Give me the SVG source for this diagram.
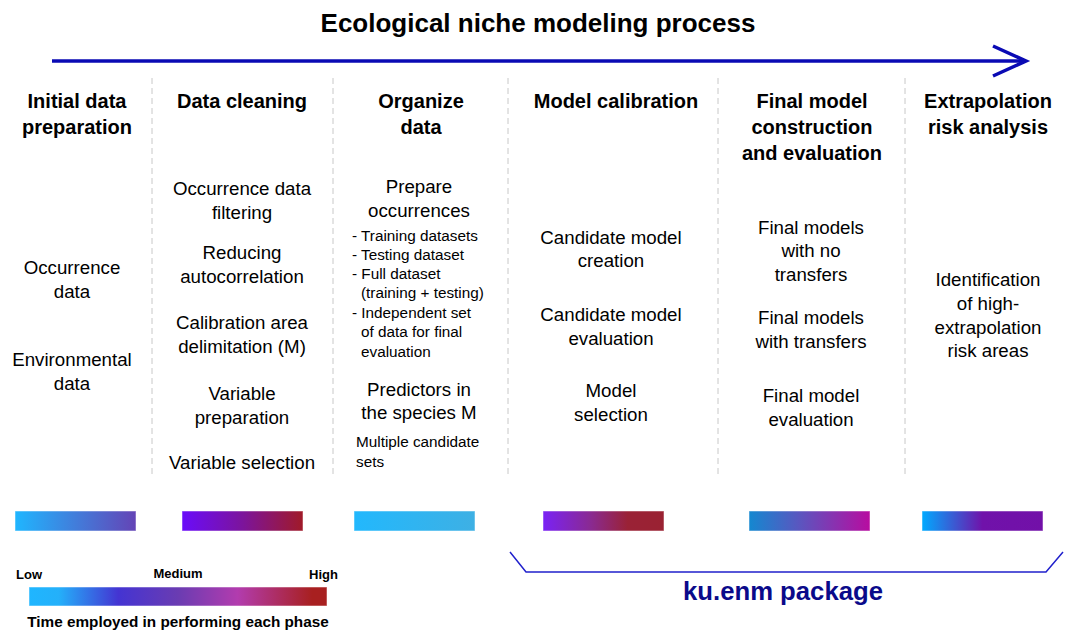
<svg xmlns="http://www.w3.org/2000/svg" width="1070" height="632" viewBox="0 0 1070 632">
<style>
text{font-family:"Liberation Sans",Arial,sans-serif;fill:#000}
.title{font-size:26px;font-weight:bold}
.h{font-size:20px;font-weight:bold;text-anchor:middle}
.b{font-size:18.7px;text-anchor:middle}
.s{font-size:15.3px}
.sep{stroke:#c8c8c8;stroke-width:1;stroke-dasharray:6,4}
.bar{stroke:#ffffff;stroke-opacity:0.5;stroke-width:1}
.lg{font-size:13px;font-weight:bold}
</style>
<defs>
<linearGradient id="g1"><stop offset="0" stop-color="#1fb6ff"/><stop offset="1" stop-color="#6444b6"/></linearGradient>
<linearGradient id="g2"><stop offset="0" stop-color="#6a0cfa"/><stop offset="0.5" stop-color="#7c149c"/><stop offset="1" stop-color="#a01a28"/></linearGradient>
<linearGradient id="g3"><stop offset="0" stop-color="#22b8fd"/><stop offset="1" stop-color="#3eb0e4"/></linearGradient>
<linearGradient id="g4"><stop offset="0" stop-color="#7a22f5"/><stop offset="0.4" stop-color="#8a2a90"/><stop offset="0.7" stop-color="#9a2236"/><stop offset="1" stop-color="#9a2232"/></linearGradient>
<linearGradient id="g5"><stop offset="0" stop-color="#1488d0"/><stop offset="0.4" stop-color="#5858c0"/><stop offset="1" stop-color="#b80ca0"/></linearGradient>
<linearGradient id="g6"><stop offset="0" stop-color="#00aaff"/><stop offset="0.5" stop-color="#7012aa"/><stop offset="1" stop-color="#7210a8"/></linearGradient>
<linearGradient id="gl"><stop offset="0" stop-color="#1fb6ff"/><stop offset="0.1" stop-color="#24b0fa"/><stop offset="0.3" stop-color="#4434d2"/><stop offset="0.5" stop-color="#6a3cb2"/><stop offset="0.7" stop-color="#b23cae"/><stop offset="0.95" stop-color="#a82020"/><stop offset="1" stop-color="#a82020"/></linearGradient>
</defs>

<text class="title" x="538" y="32" text-anchor="middle">Ecological niche modeling process</text>

<g id="connectors">
<line x1="52" y1="61" x2="1025" y2="61" stroke="#0a0ab4" stroke-width="3.5"/>
<polyline points="993,46 1026,61 993,76" fill="none" stroke="#0a0ab4" stroke-width="3.5"/>
<line class="sep" x1="152" y1="78" x2="152" y2="476"/>
<line class="sep" x1="333" y1="78" x2="333" y2="476"/>
<line class="sep" x1="508" y1="78" x2="508" y2="476"/>
<line class="sep" x1="718" y1="78" x2="718" y2="476"/>
<line class="sep" x1="905" y1="78" x2="905" y2="476"/>
<polyline points="510,552 526,572 1046,572 1063,552" fill="none" stroke="#2020cc" stroke-width="1.5"/>
</g>

<g id="col1">
<text class="h" x="77" y="108">Initial data</text>
<text class="h" x="77" y="134">preparation</text>
<text class="b" x="72" y="274">Occurrence</text>
<text class="b" x="72" y="298">data</text>
<text class="b" x="72" y="366">Environmental</text>
<text class="b" x="72" y="390">data</text>
<rect class="bar" x="15" y="511" width="121" height="20" fill="url(#g1)"/>
</g>

<g id="col2">
<text class="h" x="242" y="108">Data cleaning</text>
<text class="b" x="242" y="195">Occurrence data</text>
<text class="b" x="242" y="219">filtering</text>
<text class="b" x="242" y="259">Reducing</text>
<text class="b" x="242" y="283">autocorrelation</text>
<text class="b" x="242" y="329">Calibration area</text>
<text class="b" x="242" y="353">delimitation (M)</text>
<text class="b" x="242" y="400">Variable</text>
<text class="b" x="242" y="424">preparation</text>
<text class="b" x="242" y="469">Variable selection</text>
<rect class="bar" x="182" y="511" width="121" height="20" fill="url(#g2)"/>
</g>

<g id="col3">
<text class="h" x="421" y="108">Organize</text>
<text class="h" x="421" y="134">data</text>
<text class="b" x="419" y="193">Prepare</text>
<text class="b" x="419" y="217">occurrences</text>
<text class="s" x="352" y="241">- Training datasets</text>
<text class="s" x="352" y="260">- Testing dataset</text>
<text class="s" x="352" y="279">- Full dataset</text>
<text class="s" x="361" y="298">(training + testing)</text>
<text class="s" x="352" y="318">- Independent set</text>
<text class="s" x="361" y="337">of data for final</text>
<text class="s" x="361" y="357">evaluation</text>
<text class="b" x="419" y="396">Predictors in</text>
<text class="b" x="419" y="419">the species M</text>
<text class="s" x="356" y="447">Multiple candidate</text>
<text class="s" x="356" y="467">sets</text>
<rect class="bar" x="354" y="511" width="121" height="20" fill="url(#g3)"/>
</g>

<g id="col4">
<text class="h" x="616" y="108">Model calibration</text>
<text class="b" x="611" y="244">Candidate model</text>
<text class="b" x="611" y="267">creation</text>
<text class="b" x="611" y="321">Candidate model</text>
<text class="b" x="611" y="345">evaluation</text>
<text class="b" x="611" y="397">Model</text>
<text class="b" x="611" y="421">selection</text>
<rect class="bar" x="543" y="511" width="121" height="20" fill="url(#g4)"/>
</g>

<g id="col5">
<text class="h" x="812" y="108">Final model</text>
<text class="h" x="812" y="134">construction</text>
<text class="h" x="812" y="160">and evaluation</text>
<text class="b" x="811" y="234">Final models</text>
<text class="b" x="811" y="257">with no</text>
<text class="b" x="811" y="281">transfers</text>
<text class="b" x="811" y="324">Final models</text>
<text class="b" x="811" y="348">with transfers</text>
<text class="b" x="811" y="402">Final model</text>
<text class="b" x="811" y="426">evaluation</text>
<rect class="bar" x="749" y="511" width="121" height="20" fill="url(#g5)"/>
</g>

<g id="col6">
<text class="h" x="988" y="108">Extrapolation</text>
<text class="h" x="988" y="134">risk analysis</text>
<text class="b" x="988" y="286">Identification</text>
<text class="b" x="988" y="310">of high-</text>
<text class="b" x="988" y="334">extrapolation</text>
<text class="b" x="988" y="357">risk areas</text>
<rect class="bar" x="922" y="511" width="121" height="20" fill="url(#g6)"/>
</g>

<g id="legend">
<text class="lg" x="16" y="579">Low</text>
<text class="lg" x="178" y="578" text-anchor="middle">Medium</text>
<text class="lg" x="338" y="579" text-anchor="end">High</text>
<rect class="bar" x="29" y="587" width="298" height="19" fill="url(#gl)"/>
<text class="lg" x="178" y="627" text-anchor="middle" style="font-size:15.3px">Time employed in performing each phase</text>
</g>

<g id="package">
<text x="783" y="600" text-anchor="middle" style="font-size:25.7px;font-weight:bold;fill:#0a0a8a">ku.enm package</text>
</g>
</svg>
